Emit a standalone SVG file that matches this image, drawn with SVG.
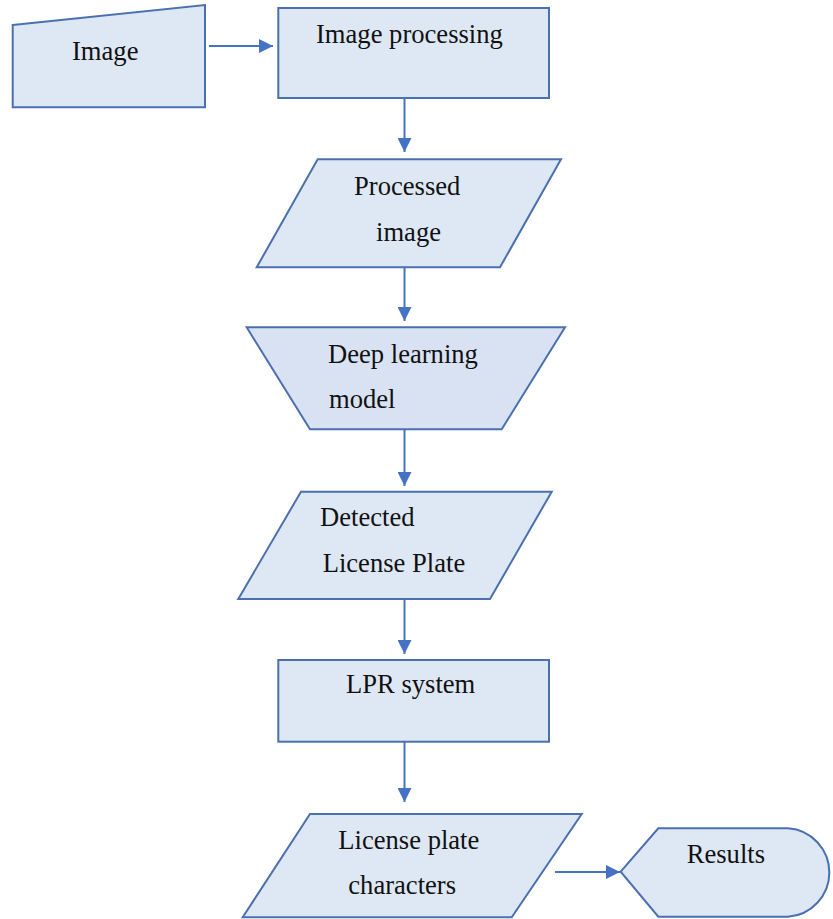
<svg xmlns="http://www.w3.org/2000/svg" width="833" height="919" viewBox="0 0 833 919">
<defs>
<style>
.shape{fill:#dee8f5;stroke:#4a70b0;stroke-width:2;stroke-linejoin:miter}
.dark{fill:#d9e2f3}
.lbl{font-family:"Liberation Serif","Times New Roman",serif;font-size:26.6px;fill:#111}
.conn{stroke:#4472c4;stroke-width:2;fill:none}
</style>
<marker id="ah" viewBox="0 0 10 10" refX="10" refY="5" markerWidth="15" markerHeight="14" markerUnits="userSpaceOnUse" orient="auto">
<path d="M0,0 L10,5 L0,10 Z" fill="#4472c4"/>
</marker>
</defs>
<rect width="833" height="919" fill="#ffffff"/>
<g id="connectors">
<line class="conn" x1="209" y1="46" x2="273" y2="46" marker-end="url(#ah)"/>
<line class="conn" x1="404.5" y1="98" x2="404.5" y2="152" marker-end="url(#ah)"/>
<line class="conn" x1="404.5" y1="268" x2="404.5" y2="321" marker-end="url(#ah)"/>
<line class="conn" x1="404.5" y1="430" x2="404.5" y2="486" marker-end="url(#ah)"/>
<line class="conn" x1="404.5" y1="600" x2="404.5" y2="654" marker-end="url(#ah)"/>
<line class="conn" x1="404.5" y1="742" x2="404.5" y2="802" marker-end="url(#ah)"/>
<line class="conn" x1="555" y1="872" x2="620" y2="872" marker-end="url(#ah)"/>
</g>
<g id="image">
<polygon class="shape" points="12.7,25 205,5 205,107.3 12.7,107.3"/>
<text class="lbl" x="72" y="60">Image</text>
</g>
<g id="image-processing">
<rect class="shape" x="278.3" y="8" width="270.7" height="90"/>
<text class="lbl" x="316" y="43">Image processing</text>
</g>
<g id="processed-image">
<polygon class="shape" points="317.7,159.3 561,159.3 500,267.3 256.7,267.3"/>
<text class="lbl" x="354" y="195">Processed</text>
<text class="lbl" x="376" y="240.5">image</text>
</g>
<g id="deep-learning-model">
<polygon class="shape dark" points="246.7,327.3 565,327.3 501.7,429.3 310,429.3"/>
<text class="lbl" x="328" y="363">Deep learning</text>
<text class="lbl" x="329" y="408">model</text>
</g>
<g id="detected-license-plate">
<polygon class="shape" points="301,491.7 551.7,491.7 490,599 238.3,599"/>
<text class="lbl" x="320" y="525.7">Detected</text>
<text class="lbl" x="322.7" y="571.7">License Plate</text>
</g>
<g id="lpr-system">
<rect class="shape" x="278.3" y="660" width="270.7" height="81.7"/>
<text class="lbl" x="346" y="693.3">LPR system</text>
</g>
<g id="license-plate-characters">
<polygon class="shape" points="310,814 581.7,814 511.7,917.3 242.7,917.3"/>
<text class="lbl" x="338.3" y="849.3">License plate</text>
<text class="lbl" x="348.3" y="894.3">characters</text>
</g>
<g id="results">
<path class="shape" d="M620.7,871.7 L658.3,828.3 L788,828.3 A44.3,44.3 0 0 1 788,916.7 L658.3,916.7 Z"/>
<text class="lbl" x="686.7" y="862.7">Results</text>
</g>
</svg>
